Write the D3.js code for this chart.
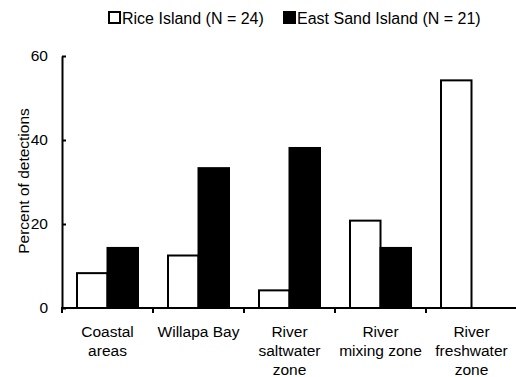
<!DOCTYPE html>
<html lang="en">
<head>
    <meta charset="UTF-8">
    <title>Percent of detections</title>
    <script src="https://cdnjs.cloudflare.com/ajax/libs/d3/7.8.5/d3.min.js"></script>
    <style>
        body { margin: 0; background: #fff; }
        text { font-family: "Liberation Sans", Arial, sans-serif; fill: #000; }
    </style>
</head>
<body>
<script>
    // values (percent of detections)
    var categories = [["Coastal", "areas"], ["Willapa Bay"], ["River", "saltwater", "zone"],
                      ["River", "mixing zone"], ["River", "freshwater", "zone"]];
    var seriesNames = ["Rice Island (N = 24)", "East Sand Island (N = 21)"];
    var riceIsland = [8.3, 12.5, 4.2, 20.8, 54.2];
    var eastSand = [14.3, 33.3, 38.1, 14.3, 0];
    var yTicks = [0, 20, 40, 60];

    var svg = d3.select("body").append("svg")
            .attr("width", 516)
            .attr("height", 377);

    var catIdx = d3.range(categories.length);
    var x0 = d3.scaleBand().domain(catIdx).range([62, 517]);
    var x1 = d3.scaleBand().domain([0, 1]).range([15, 76]);
    var y = d3.scaleLinear().domain([0, 60]).range([308, 56]);

    var rows = catIdx.map(function(i) { return [riceIsland[i], eastSand[i]]; });

    // bars
    var groups = svg.selectAll("g.cat")
            .data(rows)
            .enter().append("g")
            .attr("class", "cat")
            .attr("transform", function(d, i) { return "translate(" + x0(i) + ",0)"; });

    groups.selectAll("rect")
            .data(function(d) { return d.filter(function(v) { return v > 0; }).length ? d.map(function(v, k) { return {v: v, k: k}; }) : []; })
            .enter().append("rect")
            .filter(function(d) { return d.v > 0; })
            .attr("x", function(d) { return x1(d.k); })
            .attr("y", function(d) { return y(d.v); })
            .attr("width", x1.bandwidth())
            .attr("height", function(d) { return y(0) - y(d.v); })
            .attr("fill", function(d) { return d.k === 0 ? "#fff" : "#000"; })
            .attr("stroke", "#000")
            .attr("stroke-width", 2);

    // y axis
    var yAxis = svg.append("g")
            .attr("transform", "translate(62,0)")
            .call(d3.axisLeft(y).tickValues(yTicks).tickSizeInner(-4).tickSizeOuter(0).tickPadding(14));
    yAxis.select(".domain").attr("stroke-width", 2);
    yAxis.selectAll(".tick line").attr("stroke-width", 2);
    yAxis.selectAll("text").style("font-size", "15.5px").attr("font-family", null);

    // x axis: baseline with ticks at band boundaries
    svg.append("line")
            .attr("x1", 61).attr("x2", 516)
            .attr("y1", y(0)).attr("y2", y(0))
            .attr("stroke", "#000").attr("stroke-width", 2);
    svg.selectAll("line.xtick")
            .data(catIdx)
            .enter().append("line")
            .attr("class", "xtick")
            .attr("x1", function(i) { return x0(i); })
            .attr("x2", function(i) { return x0(i); })
            .attr("y1", y(0)).attr("y2", y(0) + 5)
            .attr("stroke", "#000").attr("stroke-width", 2);

    // category labels
    var labels = svg.selectAll("text.cat")
            .data(categories)
            .enter().append("text")
            .attr("class", "cat")
            .attr("text-anchor", "middle")
            .style("font-size", "15.5px")
            .attr("transform", function(d, i) { return "translate(" + (x0(i) + x0.bandwidth() / 2) + ",337)"; });
    labels.selectAll("tspan")
            .data(function(d) { return d; })
            .enter().append("tspan")
            .attr("x", 0)
            .attr("y", function(d, k) { return k * 19; })
            .text(function(d) { return d; });

    // y label
    svg.append("text")
            .attr("transform", "translate(29,181) rotate(-90)")
            .attr("text-anchor", "middle")
            .style("font-size", "15.5px")
            .text("Percent of detections");

    // legend
    var legendX = [108, 283];
    var legend = svg.selectAll("g.legend")
            .data(seriesNames)
            .enter().append("g")
            .attr("class", "legend")
            .attr("transform", function(d, i) { return "translate(" + legendX[i] + ",0)"; });
    legend.append("rect")
            .attr("x", 1).attr("y", 12)
            .attr("width", 11).attr("height", 11)
            .attr("fill", function(d, i) { return i === 0 ? "#fff" : "#000"; })
            .attr("stroke", "#000").attr("stroke-width", 2);
    legend.append("text")
            .attr("x", 14).attr("y", 24)
            .style("font-size", "16px")
            .text(function(d) { return d; });
</script>
</body>
</html>
